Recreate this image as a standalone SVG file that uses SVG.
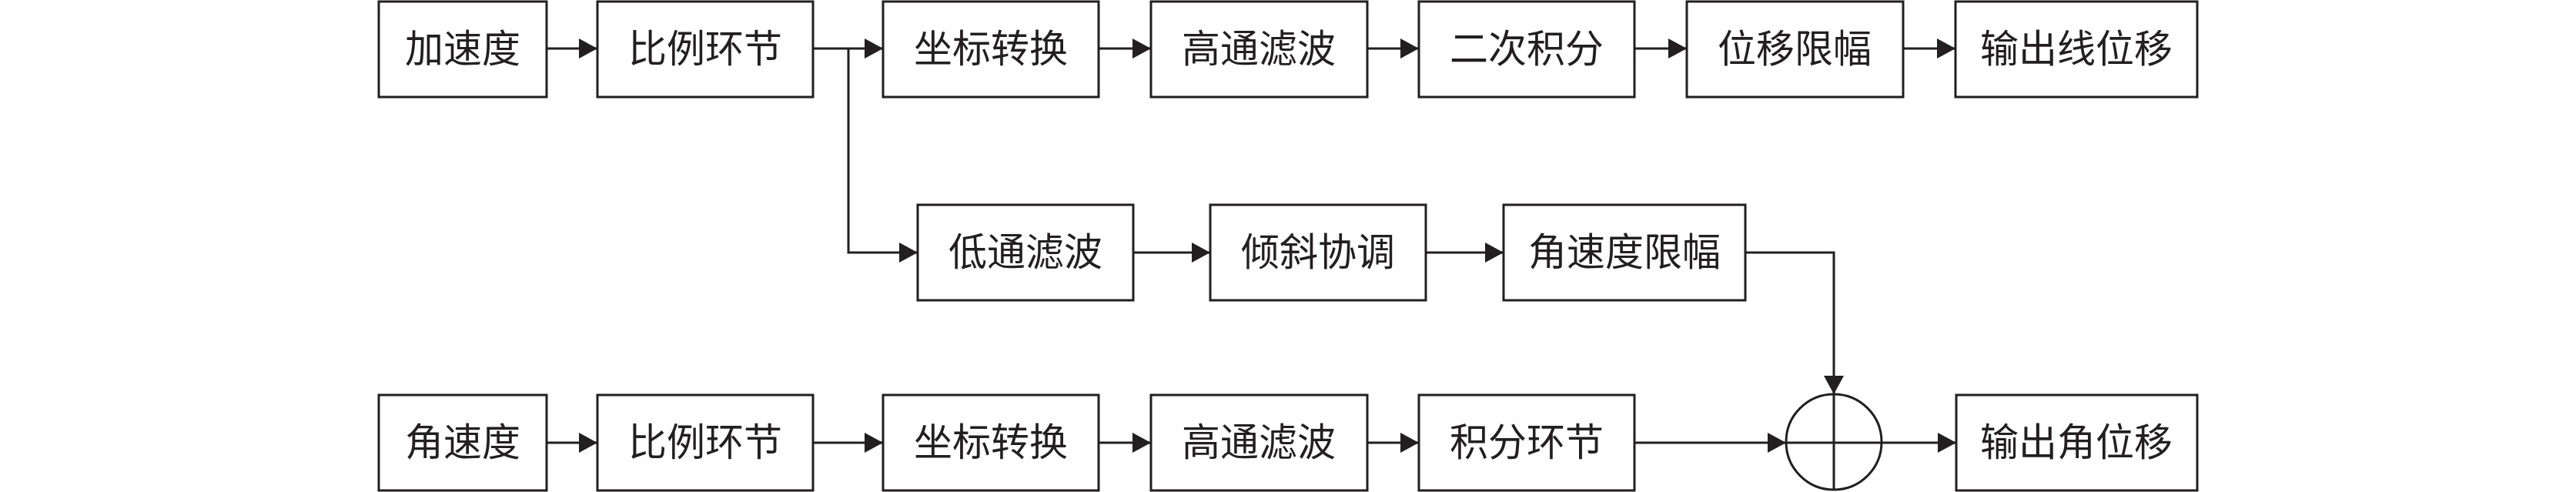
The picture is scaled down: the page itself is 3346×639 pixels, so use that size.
<svg xmlns="http://www.w3.org/2000/svg" width="3346" height="639" viewBox="0 0 3346 639">
<style>
.box{fill:#fff;stroke:#231f20;stroke-width:3}
.lbl{font-family:"Liberation Serif","Noto Sans CJK SC",serif;font-size:50px;fill:#231f20;text-anchor:middle}
.ln{fill:none;stroke:#231f20;stroke-width:3}
.arr{fill:none;stroke:#231f20;stroke-width:3;marker-end:url(#ah)}
</style>
<defs>
<marker id="ah" markerUnits="userSpaceOnUse" markerWidth="24" markerHeight="26" refX="24" refY="13" orient="auto">
<path d="M0,0 L24,13 L0,26 z" fill="#231f20"/>
</marker>
</defs>
<rect width="3346" height="639" fill="#fff"/>
<g id="n_jiasudu"><rect class="box" x="492" y="2" width="218" height="124"/><text class="lbl" x="601" y="81">加速度</text></g>
<g id="n_bili1"><rect class="box" x="776" y="2" width="280" height="124"/><text class="lbl" x="916" y="81">比例环节</text></g>
<g id="n_zuobiao1"><rect class="box" x="1147" y="2" width="280" height="124"/><text class="lbl" x="1287" y="81">坐标转换</text></g>
<g id="n_gaotong1"><rect class="box" x="1495" y="2" width="281" height="124"/><text class="lbl" x="1635" y="81">高通滤波</text></g>
<g id="n_erci"><rect class="box" x="1843" y="2" width="280" height="124"/><text class="lbl" x="1983" y="81">二次积分</text></g>
<g id="n_weiyixf"><rect class="box" x="2191" y="2" width="281" height="124"/><text class="lbl" x="2331" y="81">位移限幅</text></g>
<g id="n_xianweiyi"><rect class="box" x="2540" y="2" width="314" height="124"/><text class="lbl" x="2697" y="81">输出线位移</text></g>
<g id="n_ditong"><rect class="box" x="1192" y="266" width="280" height="124"/><text class="lbl" x="1332" y="345">低通滤波</text></g>
<g id="n_qingxie"><rect class="box" x="1572" y="266" width="280" height="124"/><text class="lbl" x="1712" y="345">倾斜协调</text></g>
<g id="n_jsdxf"><rect class="box" x="1953" y="266" width="314" height="124"/><text class="lbl" x="2110" y="345">角速度限幅</text></g>
<g id="n_jiaosudu"><rect class="box" x="492" y="513" width="218" height="124"/><text class="lbl" x="601" y="592">角速度</text></g>
<g id="n_bili2"><rect class="box" x="776" y="513" width="280" height="124"/><text class="lbl" x="916" y="592">比例环节</text></g>
<g id="n_zuobiao2"><rect class="box" x="1147" y="513" width="280" height="124"/><text class="lbl" x="1287" y="592">坐标转换</text></g>
<g id="n_gaotong2"><rect class="box" x="1495" y="513" width="281" height="124"/><text class="lbl" x="1635" y="592">高通滤波</text></g>
<g id="n_jifen"><rect class="box" x="1843" y="513" width="280" height="124"/><text class="lbl" x="1983" y="592">积分环节</text></g>
<g id="n_sum"><circle cx="2382" cy="574" r="62" fill="#fff" stroke="#231f20" stroke-width="3"/><path class="ln" d="M2382,512 V636 M2320,575 H2444"/></g>
<g id="n_jiaoweiyi"><rect class="box" x="2541" y="513" width="313" height="124"/><text class="lbl" x="2697" y="592">输出角位移</text></g>
<g id="connectors">
<path class="arr" d="M710,63 H776"/>
<path class="arr" d="M1056,63 H1147"/>
<path class="arr" d="M1102,63 V328 H1192"/>
<path class="arr" d="M1427,63 H1495"/>
<path class="arr" d="M1776,63 H1843"/>
<path class="arr" d="M2123,63 H2191"/>
<path class="arr" d="M2472,63 H2540"/>
<path class="arr" d="M1472,328 H1572"/>
<path class="arr" d="M1852,328 H1953"/>
<path class="arr" d="M2267,328 H2382 V512"/>
<path class="arr" d="M710,575 H776"/>
<path class="arr" d="M1056,575 H1147"/>
<path class="arr" d="M1427,575 H1495"/>
<path class="arr" d="M1776,575 H1843"/>
<path class="arr" d="M2123,575 H2320"/>
<path class="arr" d="M2444,575 H2541"/>
</g>
</svg>
